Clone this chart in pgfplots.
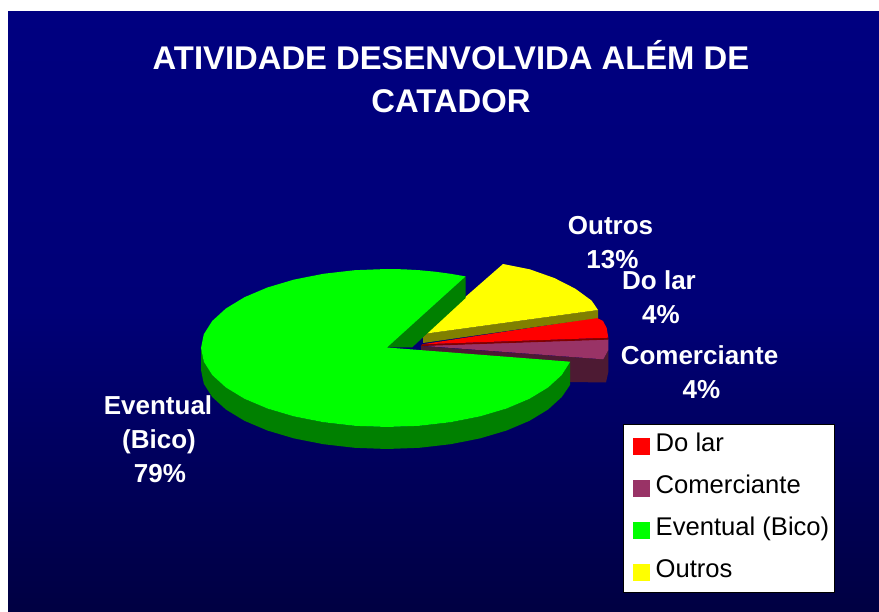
\documentclass[border=0pt]{standalone}
\usepackage{fontspec}
\setmainfont{Liberation Sans}
\usepackage{pgfplots}
\pgfplotsset{compat=1.18}
\definecolor{cnavy}{RGB}{0,0,128}
\definecolor{cdeep}{RGB}{0,0,66}
\definecolor{cgreen}{RGB}{0,255,0}
\definecolor{cdgreen}{RGB}{0,128,0}
\definecolor{cyel}{RGB}{255,255,0}
\definecolor{colive}{RGB}{128,128,0}
\definecolor{cred}{RGB}{255,0,0}
\definecolor{cdred}{RGB}{128,0,0}
\definecolor{cmag}{RGB}{153,51,102}
\definecolor{cdmag}{RGB}{77,26,51}
\pgfplotsset{swatch/.style={legend image code/.code={\path (0pt,0pt) (26.5pt,0pt); \path[##1,draw=none] (4.5pt,-10pt) rectangle (21.5pt,7pt);}}}
\begin{document}
\begin{tikzpicture}
\begin{axis}[
  width=879pt,height=612pt,scale only axis,
  xmin=0,xmax=879,ymin=0,ymax=612,y dir=reverse,
  hide axis,clip=false,
  legend cell align=left,
  legend style={at={(axis cs:623,424)},anchor=north west,draw=black,fill=white,line width=0.8pt,
    font=\fontsize{25.6}{26}\selectfont,text=black,
    inner xsep=5pt,inner ysep=0pt,
    nodes={inner sep=0pt,minimum height=42pt,text height=19pt,text depth=6pt},
    row sep=0pt},
]
\path[fill=white] (axis cs:0,0) rectangle (axis cs:879,612);
\path[top color=cnavy,bottom color=cdeep,middle color=cnavy!85!cdeep] (axis cs:8,12) rectangle (axis cs:879,612);

% Comerciante wall and top
\addplot[forget plot,draw=none,fill=cdmag] coordinates {(421,346)(603.3,359.3)(608.3,350)(608.3,372)(606,382.5)(570,382)(570,370)(421,352)} --cycle;
\addplot[forget plot,draw=none,fill=cmag] coordinates {(421,345.7)(608.3,339.3)(608.3,350)(603.3,359.3)} --cycle;
% Do lar wall and top
\addplot[forget plot,draw=none,fill=cdred] coordinates {(422,344.3)(608.3,337.7)(608.3,339.6)(421,346)} --cycle;
\addplot[forget plot,draw=none,fill=cred] coordinates {(422,344.3)(596.7,317.7)(603,321)(606.7,328)(608.3,337.7)} --cycle;
% Outros wall and top
\addplot[forget plot,draw=none,fill=colive] coordinates {(423,334)(598,310)(598,318)(423,343)} --cycle;
\addplot[forget plot,draw=none,fill=cyel] coordinates {(423,334)(503,264)(529.7,269.3)(554.5,278.1)(575.3,288.7)(591.6,300.6)(598,310)} --cycle;
% Eventual walls and top
\addplot[forget plot,draw=none,fill=cdgreen] coordinates {(387,347.5)(465.6,276.4)(465.6,298)(412,347.5)} --cycle;
\addplot[forget plot,draw=none,fill=cdgreen] coordinates {
 (201,348)(203.8,361.7)(212.2,375)(225.9,387.5)(244.5,398.8)(267.4,408.5)(294,416.4)(323.4,422.2)(354.7,425.8)(387,427)(419.3,425.8)(450.6,422.2)(480,416.4)(506.6,408.5)(529.5,398.8)(548.1,387.5)(561.8,375)(570.2,361.7)
 (570.2,384.7)(561.8,397)(548.1,409.5)(529.5,420.8)(506.6,430.5)(480,438.4)(450.6,444.2)(419.3,447.8)(387,449)(354.7,447.8)(323.4,444.2)(294,438.4)(267.4,430.5)(244.5,420.8)(225.9,409.5)(212.2,397)(203.8,383.7)(201,370)} --cycle;
\addplot[forget plot,draw=none,fill=cgreen] coordinates {
 (387,347.5)(465.6,276.4)(450.6,273.8)(435.1,271.7)(419.3,270.2)(403.2,269.3)(387,269)(354.7,270.2)(323.4,273.8)(294,279.6)(267.4,287.5)(244.5,297.2)(225.9,308.5)(212.2,321)(203.8,334.3)
 (201,348)(203.8,361.7)(212.2,375)(225.9,387.5)(244.5,398.8)(267.4,408.5)(294,416.4)(323.4,422.2)(354.7,425.8)(387,427)(419.3,425.8)(450.6,422.2)(480,416.4)(506.6,408.5)(529.5,398.8)(548.1,387.5)(561.8,375)(570.2,361.7)} --cycle;

\addlegendimage{swatch,fill=cred}\addlegendentry{Do lar}
\addlegendimage{swatch,fill=cmag}\addlegendentry{Comerciante}
\addlegendimage{swatch,fill=cgreen}\addlegendentry{Eventual (Bico)}
\addlegendimage{swatch,fill=cyel}\addlegendentry{Outros}

\tikzset{lab/.style={text=white,font=\bfseries\fontsize{26}{34}\selectfont,align=center,inner sep=0pt}}
\node[text=white,font=\bfseries\fontsize{32.8}{43}\selectfont,align=center,inner sep=0pt] at (axis cs:451,76.5) {ATIVIDADE DESENVOLVIDA ALÉM DE\\CATADOR};
\node[lab] at (axis cs:610.5,242.5) {Outros\\\hspace*{4pt}13\%};
\node[lab] at (axis cs:659,297.5) {Do lar\\\hspace*{4pt}4\%};
\node[lab] at (axis cs:699.5,372.5) {Comerciante\\\hspace*{4pt}4\%};
\node[lab] at (axis cs:158,439) {Eventual\\\hspace*{2pt}(Bico)\\\hspace*{4pt}79\%};
\end{axis}
\end{tikzpicture}
\end{document}
